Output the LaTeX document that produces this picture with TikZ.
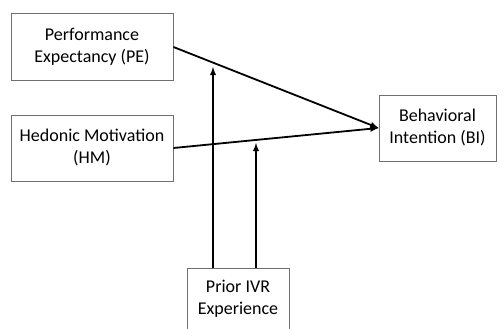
\documentclass[tikz,border=0pt]{standalone}
\usepackage{fontspec}
\setmainfont{Carlito}
\usepackage{tikz}
\usetikzlibrary{arrows,shapes}
\definecolor{boxline}{RGB}{112,112,112}
\tikzstyle{construct}=[draw=boxline,line width=0.9pt,fill=white,align=center,inner sep=0pt,font=\fontsize{18}{22}\selectfont]
\tikzstyle{arrow} = [draw,line width=1.8pt,-latex]

\begin{document}
\begin{tikzpicture}[x=1pt,y=1pt]
    \useasboundingbox (0,0) rectangle (504,329);
    % constructs
    \node[construct,minimum width=162pt,minimum height=67pt] (pe) at (92,282.5) {Performance\\Expectancy (PE)};
    \node[construct,minimum width=162pt,minimum height=66pt] (hm) at (92,181) {Hedonic Motivation\\(HM)};
    \node[construct,minimum width=117pt,minimum height=66pt] (bi) at (437.5,201) {Behavioral\\Intention (BI)};
    \node[construct,minimum width=102pt,minimum height=62pt] (prior) at (238,30) {Prior IVR\\Experience};
    % moderator tips
    \coordinate (m1) at (213,262);
    \coordinate (m2) at (256,186);
    % paths
    \path[arrow] (pe.east |- 0,282) -- (bi.west);
    \path[arrow] (hm.east |- 0,181) -- (bi.west);
    \path[arrow] (prior.north -| m1) -- (m1);
    \path[arrow] (prior.north -| m2) -- (m2);
\end{tikzpicture}
\end{document}
